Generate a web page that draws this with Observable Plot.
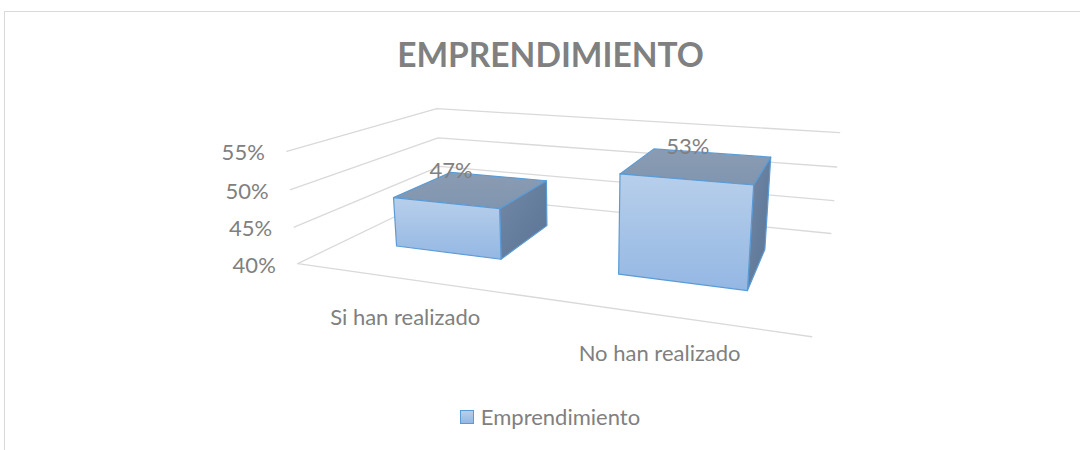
<!DOCTYPE html>
<html>
<head>
<meta charset="utf-8">
<script src="https://cdn.jsdelivr.net/npm/d3@7"></script>
<script src="https://cdn.jsdelivr.net/npm/@observablehq/plot@0.6"></script>
<style>
  html, body { margin: 0; padding: 0; background: #fff; }
  body { width: 1080px; height: 450px; overflow: hidden; position: relative; font-family: Lato, "Open Sans", sans-serif; }
  #frame { position: absolute; left: 4px; top: 11px; width: 1100px; height: 460px;
           border-left: 1px solid #d9d9d9; border-top: 1px solid #d9d9d9; box-sizing: border-box; }
  #title { position: absolute; left: 0; top: 37px; width: 1101px; text-align: center;
           font: bold 33.5px/34px Lato, sans-serif; color: #808080; }
  #chart { position: absolute; left: 0; top: 90px; }
  #legend { position: absolute; left: 0; top: 406px; width: 1100px; display: flex; justify-content: center;
            align-items: center; font: 22px/22px Lato, sans-serif; color: #808080; }
  #legend .sw { width: 12px; height: 12px; border: 1px solid #5b9bd5;
                background: linear-gradient(#b7cfeb, #94b7e3); margin-right: 7px; }
</style>
</head>
<body>
<div id="frame"></div>
<div id="title"></div>
<div id="chart"></div>
<div id="legend"></div>
<script>
// ---- data ----
const chartTitle = "EMPRENDIMIENTO";
const seriesName = "Emprendimiento";
const categories = ["Si han realizado", "No han realizado"];
const values = [0.47, 0.53];
const ticks = [0.40, 0.45, 0.50, 0.55];

// ---- 3D view (Excel-like rotation/perspective) ----
const view = {theta: 20, phi: 15, f: 790, W: 476, D: 274, H: 110, barW: 118, barD: 118};
const rad = Math.PI / 180;
const T = view.theta * rad, P = view.phi * rad;
function project(X, Y, Z) {
  const x1 = X * Math.cos(T) + Z * Math.sin(T);
  const z1 = -X * Math.sin(T) + Z * Math.cos(T);
  const yc = Y * Math.cos(P) + z1 * Math.sin(P);
  const z2 = -Y * Math.sin(P) + z1 * Math.cos(P);
  const s = view.f / (view.f + z2);
  return {u: x1 * s, v: -yc * s};
}
const {W, D, H, barW, barD} = view;
const yWorld = d3.scaleLinear().domain([ticks[0], ticks[ticks.length - 1]]).range([-H / 2, H / 2]);
const xBand = d3.scaleBand().domain(categories).range([-W / 2, W / 2]);
const pct = v => Math.round(v * 100) + "%";

// gridlines: left wall + back wall
const grid = ticks.flatMap(t => {
  const Y = yWorld(t);
  return [[-W / 2, Y, -D / 2], [-W / 2, Y, D / 2], [W / 2, Y, D / 2]]
    .map(([X, Yy, Z]) => ({tick: t, ...project(X, Yy, Z)}));
});
// floor front edge
const floorY = yWorld(ticks[0]);
const floorFront = [[-W / 2, floorY, -D / 2], [W / 2, floorY, -D / 2]].map(([X, Y, Z]) => project(X, Y, Z));

// bar faces
const faces = {front: [], top: [], side: []};
categories.forEach((c, i) => {
  const xc = xBand(c) + xBand.bandwidth() / 2;
  const x0 = xc - barW / 2, x1 = xc + barW / 2;
  const y0 = floorY, y1 = yWorld(values[i]);
  const z0 = -barD / 2, z1 = barD / 2;
  const polys = {
    front: [[x0, y0, z0], [x1, y0, z0], [x1, y1, z0], [x0, y1, z0], [x0, y0, z0]],
    top: [[x0, y1, z0], [x1, y1, z0], [x1, y1, z1], [x0, y1, z1], [x0, y1, z0]],
    side: [[x1, y0, z0], [x1, y0, z1], [x1, y1, z1], [x1, y1, z0], [x1, y0, z0]]
  };
  for (const k in polys) polys[k].forEach(([X, Y, Z]) => faces[k].push({id: c, ...project(X, Y, Z)}));
});

// labels
const tickPts = ticks.map(t => ({label: pct(t), ...project(-W / 2, yWorld(t), -D / 2)}));
const catPts = categories.map(c => ({label: c, ...project(xBand(c) + xBand.bandwidth() / 2, floorY, -D / 2)}));
const valPts = categories.map((c, i) => ({label: pct(values[i]), ...project(xBand(c) + xBand.bandwidth() / 2, yWorld(values[i]), -barD * 0.4)}));

const defs = () => {
  const ns = "http://www.w3.org/2000/svg";
  const g = document.createElementNS(ns, "defs");
  g.innerHTML = `
    <linearGradient id="gFront" x1="0" y1="0" x2="0" y2="1">
      <stop offset="0" stop-color="#b7cfeb"/><stop offset="1" stop-color="#94b7e3"/></linearGradient>
    <linearGradient id="gTop" x1="0" y1="0" x2="0" y2="1">
      <stop offset="0" stop-color="#8a9cb4"/><stop offset="1" stop-color="#8195ae"/></linearGradient>
    <linearGradient id="gSide" x1="0" y1="0" x2="1" y2="1">
      <stop offset="0" stop-color="#7289a6"/><stop offset="1" stop-color="#5a7395"/></linearGradient>`;
  return g;
};

const txt = {fill: "#808080", fontSize: 22, fontFamily: "Lato"};
const faceStyle = {x: "u", y: "v", z: "id", stroke: "#5b9bd5", strokeWidth: 1.2, strokeLinejoin: "round"};

const plot = Plot.plot({
  width: 1080, height: 290,
  margin: 0,
  x: {type: "linear", domain: [-579, 501], range: [0, 1080], axis: null},
  y: {type: "linear", domain: [-105, 185], range: [0, 290], axis: null},
  style: {background: "transparent", fontFamily: "Lato", overflow: "visible"},
  marks: [
    defs,
    Plot.line(grid, {x: "u", y: "v", z: "tick", stroke: "#d9d9d9", strokeWidth: 1.3}),
    Plot.line(floorFront, {x: "u", y: "v", stroke: "#d9d9d9", strokeWidth: 1.3}),
    Plot.line(faces.side, {...faceStyle, fill: "url(#gSide)"}),
    Plot.line(faces.top, {...faceStyle, fill: "url(#gTop)"}),
    Plot.line(faces.front, {...faceStyle, fill: "url(#gFront)"}),
    Plot.text(tickPts, {x: "u", y: "v", text: "label", textAnchor: "end", dx: -22, dy: 2, ...txt}),
    Plot.text(catPts, {x: "u", y: "v", text: "label", dy: 39, ...txt}),
    Plot.text(valPts, {x: "u", y: "v", text: "label", dy: -29, ...txt})
  ]
});
document.getElementById("chart").append(plot);
document.getElementById("title").textContent = chartTitle;
document.getElementById("legend").innerHTML = `<span class="sw"></span><span>${seriesName}</span>`;
</script>
</body>
</html>
